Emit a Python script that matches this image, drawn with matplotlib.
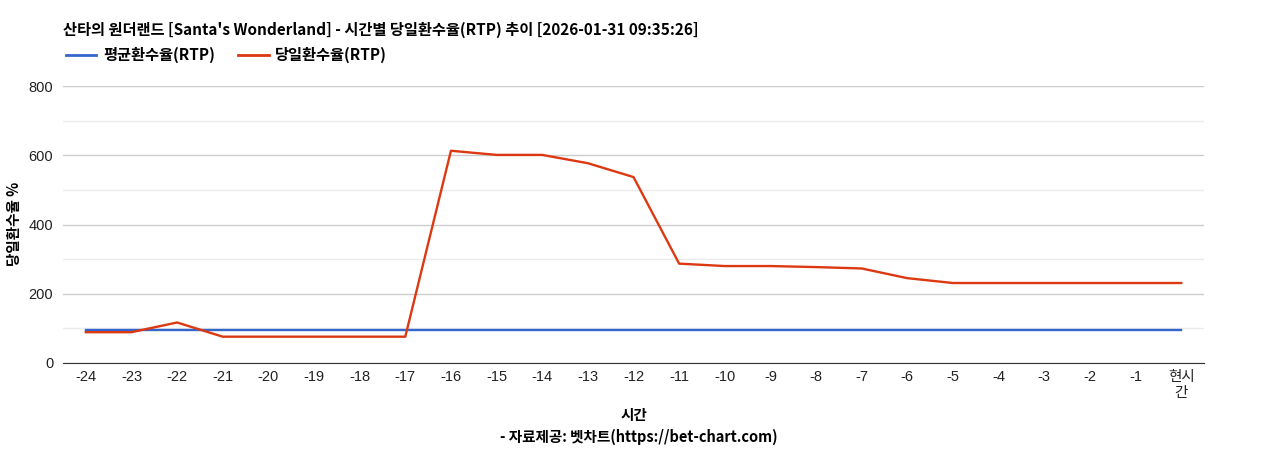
import matplotlib
matplotlib.use("Agg")
import matplotlib.pyplot as plt
from matplotlib.lines import Line2D

plt.rcParams['font.family'] = ['Noto Sans CJK KR', 'DejaVu Sans']

hours = [str(h) for h in range(-24, 0)] + ["현시\n간"]
avg_rtp = [96] * 25
day_rtp = [89, 89, 117, 76, 76, 76, 76, 76, 613, 601, 601, 577, 537,
           287, 280, 280, 277, 273, 245, 231, 231, 231, 231, 231, 231]

BLUE = "#3366cc"
RED = "#dc3912"
TICK_FONT = ['Liberation Sans', 'Noto Sans CJK KR']

fig = plt.figure(figsize=(12.68, 4.5), dpi=100)
ax = fig.add_axes([63 / 1268, 1 - 363 / 450, (1204 - 63) / 1268, 277 / 450])

x = list(range(len(hours)))
ax.plot(x, avg_rtp, color=BLUE, lw=1.7, zorder=3)
ax.plot(x, day_rtp, color=RED, lw=1.7, zorder=4)

ax.set_xlim(-0.5, len(hours) - 0.5)
ax.set_ylim(0, 800)
ax.set_yticks([0, 200, 400, 600, 800])
ax.set_yticks([100, 300, 500, 700], minor=True)
ax.grid(axis="y", which="major", color="#cccccc", lw=1)
ax.grid(axis="y", which="minor", color="#ebebeb", lw=1)
ax.set_axisbelow(True)
ax.set_xticks(x)
ax.set_xticklabels(hours)
for lab in ax.get_xticklabels() + ax.get_yticklabels():
    lab.set_family(TICK_FONT)
    lab.set_fontsize(10.5)
    lab.set_color("#222222")
ax.tick_params(axis="x", length=0, pad=5)
ax.tick_params(axis="y", which="both", length=0, pad=7)
for s in ["left", "right", "top"]:
    ax.spines[s].set_visible(False)
ax.spines["bottom"].set_color("#333333")

fig.text(14 / 1268, 1 - 224 / 450, "당일환수율 %", fontsize=10.5, fontweight="bold",
         rotation=90, ha="center", va="center")

fig.text(63 / 1268, 1 - 30 / 450, "산타의 원더랜드 [Santa's Wonderland] - 시간별 당일환수율(RTP) 추이 [2026-01-31 09:35:26]",
         fontsize=11, fontweight="bold", va="center", ha="left")

handles = [Line2D([], [], color=BLUE, lw=2), Line2D([], [], color=RED, lw=2)]
fig.legend(handles, ["평균환수율(RTP)", "당일환수율(RTP)"], loc="center left",
           bbox_to_anchor=(52 / 1268, 1 - 55 / 450), ncol=2, frameon=False,
           prop={"size": 11, "weight": "bold"}, handlelength=2.0,
           handletextpad=0.45, columnspacing=1.5)

fig.text(634 / 1268, 1 - 415 / 450, "시간", fontsize=10.5, fontweight="bold",
         ha="center", va="center")
fig.text(639 / 1268, 1 - 437 / 450, "- 자료제공: 벳차트(https://bet-chart.com)",
         fontsize=10.5, fontweight="bold", ha="center", va="center")

fig.savefig("out.png", dpi=100)
